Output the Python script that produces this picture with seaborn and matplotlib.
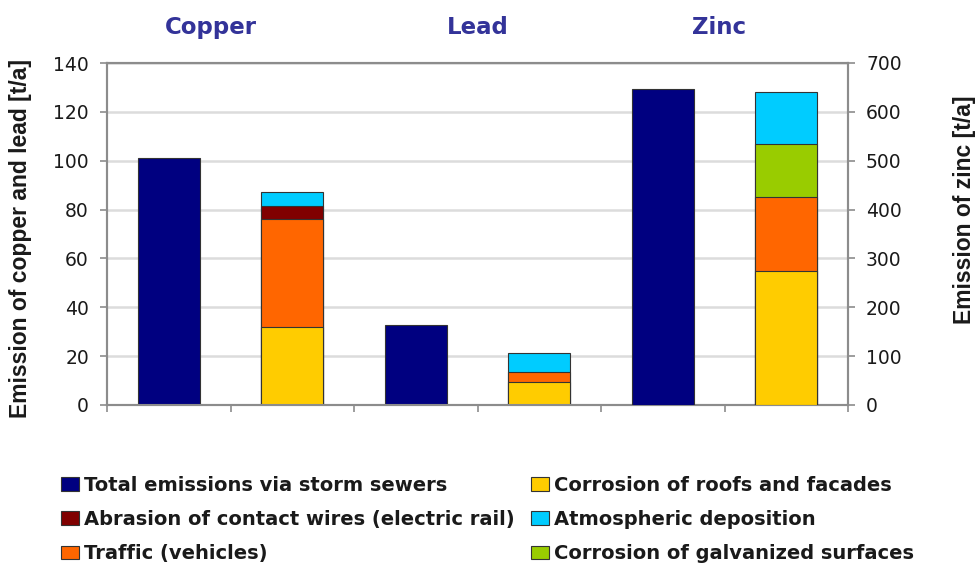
import pandas as pd
import numpy as np
import matplotlib.pyplot as plt
import seaborn as sns

# Data
metals = ["Copper", "Lead", "Zinc"]
slots = ["Copper total", "Copper sources", "Lead total", "Lead sources",
         "Zinc total", "Zinc sources"]

total_emissions = [101, 32.7, 647]       # t/a (zinc on right axis)
roofs = [32, 9.5, 275]
traffic = [44, 4.1, 151]
abrasion = [5.5, 0, 0]
atmospheric = [5.5, 7.8, 105]
galvanized = [0, 0, 109]

layer_names = [
    "Corrosion of roofs and facades",
    "Traffic (vehicles)",
    "Abrasion of contact wires (electric rail)",
    "Corrosion of galvanized surfaces",
    "Atmospheric deposition",
]
layer_values = [roofs, traffic, abrasion, galvanized, atmospheric]
colors = {
    "Total emissions via storm sewers": "#000080",
    "Corrosion of roofs and facades": "#FFCC00",
    "Traffic (vehicles)": "#FF6600",
    "Abrasion of contact wires (electric rail)": "#800000",
    "Corrosion of galvanized surfaces": "#99CC00",
    "Atmospheric deposition": "#00CCFF",
}

# ================== BUILD TABLE ==================
rows = []
for i, m in enumerate(metals):
    rows.append({"slot": f"{m} total", "metal": m,
                 "layer": "Total emissions via storm sewers",
                 "cum": total_emissions[i], "order": 0})
    cum = 0
    for k, (name, vals) in enumerate(zip(layer_names, layer_values)):
        cum += vals[i]
        if vals[i] > 0:
            rows.append({"slot": f"{m} sources", "metal": m, "layer": name,
                         "cum": cum, "order": k + 1})
df = pd.DataFrame(rows)

sns.set_style("white")
plt.rcParams["font.family"] = ["DejaVu Sans"]

fig = plt.figure(figsize=(9.76, 5.68), dpi=100)
ax = fig.add_axes([107 / 976, 1 - 405 / 568, 741 / 976, 342 / 568])
ax2 = ax.twinx()

# draw stacked layers from top of stack down so lower segments cover upper
for axis, sub in [(ax, df[df["metal"] != "Zinc"]), (ax2, df[df["metal"] == "Zinc"])]:
    for layer in sub.sort_values("order", ascending=False)["layer"].unique():
        part = sub[sub["layer"] == layer]
        sns.barplot(data=part, x="slot", y="cum", order=slots,
                    color=colors[layer], edgecolor="#333333", linewidth=0.8,
                    width=0.5, saturation=1, ax=axis, zorder=3)

for a in (ax, ax2):
    a.set_xlim(-0.5, 5.5)
    a.set_xticks(np.arange(-0.5, 6, 1))
    a.set_xticklabels([])
    a.set_xlabel("")
    a.set_ylabel("")
    for s in a.spines.values():
        s.set_color("#8c8c8c")
        s.set_linewidth(1.5)
    a.tick_params(axis="both", direction="out", colors="#8c8c8c", length=5,
                  width=1.2, labelsize=13.5, labelcolor="#1a1a1a", pad=8)
    a.tick_params(axis="x", bottom=True, pad=2)

ax.tick_params(axis="y", left=True)
ax2.tick_params(axis="y", right=True)
ax.set_ylim(0, 140)
ax.set_yticks(range(0, 141, 20))
ax2.set_ylim(0, 700)
ax2.set_yticks(range(0, 701, 100))
ax.yaxis.grid(True, color="#dcdcdc", linewidth=1.8, zorder=0)
ax.set_axisbelow(True)
ax2.patch.set_visible(False)

# axis titles (Arial-like, vertical)
fig.text(21 / 976, 1 - 238 / 568, "Emission of copper and lead [t/a]",
         rotation=90, ha="center", va="center", fontsize=16.5,
         fontweight="bold", family="Liberation Sans", color="#1a1a1a")
fig.text(964 / 976, 1 - 210 / 568, "Emission of zinc [t/a]",
         rotation=90, ha="center", va="center", fontsize=16.5,
         fontweight="bold", family="Liberation Sans", color="#1a1a1a")

# metal names above the groups
title_x = [0.34, 2.5, 4.46]
for m, xm in zip(metals, title_x):
    ax.text(xm, 1.105, m, transform=ax.get_xaxis_transform(),
            ha="center", va="center", fontsize=16.5, fontweight="bold",
            color="#333399")

# legend
order = ["Total emissions via storm sewers",
         "Abrasion of contact wires (electric rail)",
         "Traffic (vehicles)",
         "Corrosion of roofs and facades",
         "Atmospheric deposition",
         "Corrosion of galvanized surfaces"]
handles = [plt.Rectangle((0, 0), 1, 1, facecolor=colors[n], edgecolor="#333333",
                         linewidth=0.8) for n in order]
fig.legend(handles, order, ncol=2, loc="upper left",
           bbox_to_anchor=(61 / 976, 1 - 476 / 568), frameon=False,
           borderpad=0, borderaxespad=0,
           handlelength=0.92, handleheight=0.72, handletextpad=0.27,
           columnspacing=0.85, labelspacing=0.78,
           prop={"size": 14, "weight": "bold"}, labelcolor="#1a1a1a")

plt.savefig("out.png", dpi=100)
